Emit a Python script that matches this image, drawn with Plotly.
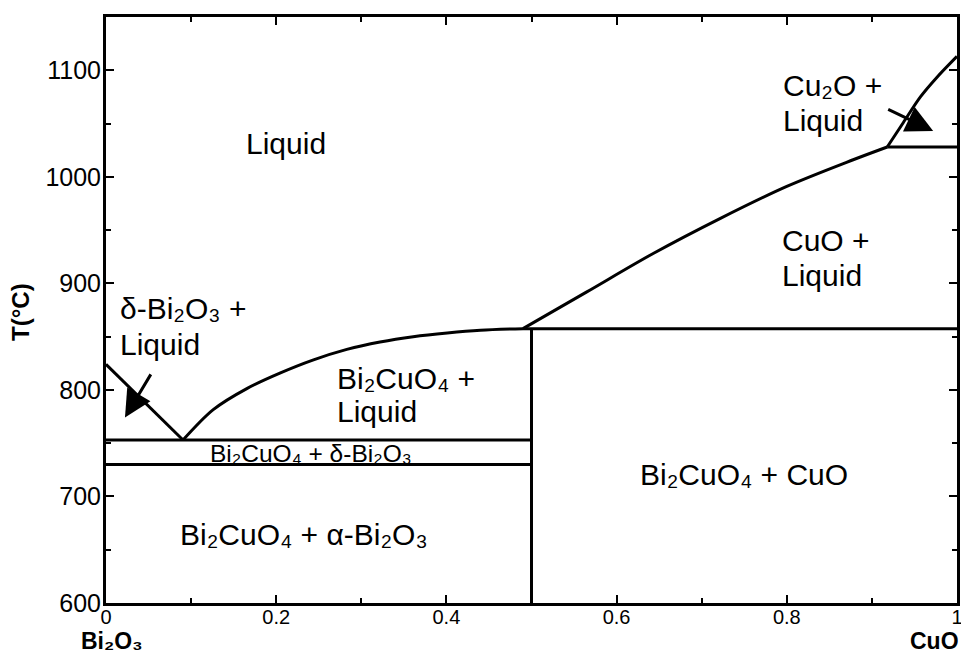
import plotly.graph_objects as go

# ---- data ----
delta_liq_x = [0.0, 0.0905]
delta_liq_T = [824, 753]

bi2cuo4_liq_x = [0.0905, 0.126, 0.166, 0.205, 0.243, 0.283, 0.322, 0.361, 0.401, 0.44, 0.49]
bi2cuo4_liq_T = [753, 781.5, 801.5, 816, 828, 838, 845, 850, 853.5, 856, 857.5]

cuo_liq_x = [0.49, 0.565, 0.643, 0.722, 0.80, 0.878, 0.918]
cuo_liq_T = [857.5, 892, 928, 961, 991, 1016, 1028]

cu2o_liq_x = [0.918, 0.937, 0.957, 0.976, 1.0]
cu2o_liq_T = [1028, 1051, 1075, 1093, 1113]

eutectic_x = [0.0, 0.5]
eutectic_T = [753, 753]
alpha_delta_x = [0.0, 0.5]
alpha_delta_T = [730, 730]
peritectic_x = [0.49, 1.0]
peritectic_T = [857.5, 857.5]
cu2o_iso_x = [0.918, 1.0]
cu2o_iso_T = [1028, 1028]
compound_x = [0.5, 0.5]
compound_T = [600, 857.5]

x_ticks = [0, 0.2, 0.4, 0.6, 0.8, 1]
x_tick_labels = ["0", "0.2", "0.4", "0.6", "0.8", "1"]
y_ticks = [600, 700, 800, 900, 1000, 1100]
y_tick_labels = ["600", "700", "800", "900", "1000", "1100"]

FONT = "Liberation Sans, Arial, Helvetica, sans-serif"

fig = go.Figure()
curves = [(delta_liq_x, delta_liq_T, "linear"), (bi2cuo4_liq_x, bi2cuo4_liq_T, "spline"),
          (cuo_liq_x, cuo_liq_T, "spline"), (cu2o_liq_x, cu2o_liq_T, "spline"),
          (eutectic_x, eutectic_T, "linear"), (alpha_delta_x, alpha_delta_T, "linear"),
          (peritectic_x, peritectic_T, "linear"), (cu2o_iso_x, cu2o_iso_T, "linear"),
          (compound_x, compound_T, "linear")]
for xs, ts, shp in curves:
    fig.add_trace(go.Scatter(x=xs, y=ts, mode="lines",
                             line=dict(color="black", width=3, shape=shp, smoothing=0.9),
                             showlegend=False, hoverinfo="skip"))

big = dict(family=FONT, size=30, color="black")
small = dict(family=FONT, size=24.5, color="black")
labels = [
    ("Liquid", 0.2113, 1031, "center", big),
    ("δ-Bi₂O₃ +", 0.014, 876, "left", big),
    ("Liquid", 0.014, 843, "left", big),
    ("Bi₂CuO₄ +", 0.269, 811, "left", big),
    ("Liquid", 0.269, 780, "left", big),
    ("Bi₂CuO₄ + δ-Bi₂O₃", 0.2403, 740, "center", small),
    ("Bi₂CuO₄ + α-Bi₂O₃", 0.2323, 664.5, "center", big),
    ("Bi₂CuO₄ + CuO", 0.7497, 720.3, "center", big),
    ("CuO +", 0.792, 940, "left", big),
    ("Liquid", 0.792, 907.5, "left", big),
    ("Cu₂O +", 0.793, 1086, "left", big),
    ("Liquid", 0.793, 1053, "left", big),
]
for text, x, y, anchor, f in labels:
    fig.add_annotation(x=x, y=y, text=text, showarrow=False, xanchor=anchor,
                       yanchor="middle", font=f)

# arrows
for (tx, tT, hx, hT) in [(0.0537, 816, 0.0223, 774), (0.9174, 1064, 0.972, 1043)]:
    fig.add_annotation(x=hx, y=hT, ax=tx, ay=tT, xref="x", yref="y",
                       axref="x", ayref="y", text="", showarrow=True,
                       arrowhead=2, arrowsize=1.8, arrowwidth=3,
                       arrowcolor="black")

# axis labels
bold = dict(family=FONT, size=23, color="black")
fig.add_annotation(x=-0.1005, y=0.4975, xref="paper", yref="paper", text="<b>T(°C)</b>",
                   textangle=-90, showarrow=False, xanchor="center", yanchor="middle",
                   font=dict(family=FONT, size=24, color="black"))
fig.add_annotation(x=0.007, y=-0.064, xref="paper", yref="paper", text="<b>Bi₂O₃</b>",
                   showarrow=False, xanchor="center", yanchor="middle", font=bold, height=24)
fig.add_annotation(x=0.974, y=-0.064, xref="paper", yref="paper", text="<b>CuO</b>",
                   showarrow=False, xanchor="center", yanchor="middle", font=bold, height=24)

fig.update_xaxes(range=[0, 1], tickvals=x_ticks, ticktext=x_tick_labels,
                 ticks="inside", ticklen=8, tickwidth=2, tickcolor="black",
                 minor=dict(dtick=0.1, ticks="inside", ticklen=5, tickwidth=2, tickcolor="black"),
                 showline=True, linewidth=3, linecolor="black", mirror="ticks",
                 showgrid=False, zeroline=False, ticklabelstandoff=-6,
                 tickfont=dict(family=FONT, size=20, color="black"))
fig.update_yaxes(range=[600, 1150], tickvals=y_ticks, ticktext=y_tick_labels,
                 ticks="inside", ticklen=8, tickwidth=2, tickcolor="black",
                 minor=dict(dtick=50, tick0=600, ticks="inside", ticklen=5, tickwidth=2, tickcolor="black"),
                 showline=True, linewidth=3, linecolor="black", mirror="ticks",
                 showgrid=False, zeroline=False, ticklabelstandoff=-3,
                 tickfont=dict(family=FONT, size=25, color="black"))

# page body has an 8px margin, so the figure is drawn 8px right/down
fig.update_layout(width=961, height=646, margin=dict(l=98, r=12, t=6, b=51),
                  paper_bgcolor="white", plot_bgcolor="white", showlegend=False)

fig.write_html("out.html")
